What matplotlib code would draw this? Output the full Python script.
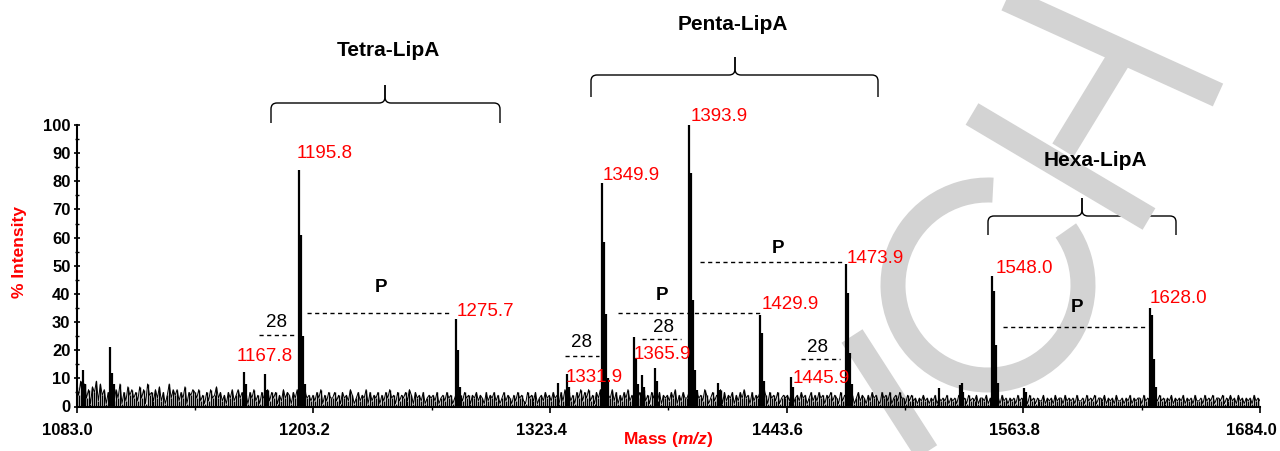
import numpy as np
import matplotlib
matplotlib.use("Agg")
import matplotlib.pyplot as plt
import matplotlib.transforms as mtransforms
from matplotlib.path import Path
from matplotlib.patches import PathPatch, Wedge

plt.rcParams['font.family'] = 'Liberation Sans'
plt.rcParams['mathtext.fontset'] = 'custom'
plt.rcParams['mathtext.bfit'] = 'Liberation Sans:italic:bold'

# baseline noise, one digit per Da from 1083 to 1684 (rows of 60 Da)
noise_rows = [
    "7492836175 9284615372 6381527463 5273618452 6372514836 4625371546",
    "5362415263 4735241536 2463524153 6241534625 3514263541 5362415342",
    "4253614253 3524153426 4135243615 2435142536 3415243526 4153425134",
    "3425134253 4135242534 1435243152 4352413524 3142534215 3425134253",
    "4253415263 5241536253 6241536251 4362514253 6241535262 4153625143",
    "4253614253 3524153426 4135243615 2435142536 3415243526 4153425134",
    "3425134253 4135242534 1435243152 4352413524 3142534215 3425134253",
    "3142423132 4231324132 3241323142 2314232413 3241324231 4231323142",
    "3231423132 2413231423 3142323142 2314232413 3241323142 2313241323",
    "3142323132 4231324132 3241323142 2314232413 3241324231 4231323142 32",
]

# peak sticks (m/z, % intensity)
peak_mz = [1086.0, 1087.0, 1099.8, 1100.8, 1101.8,
           1167.8, 1168.8, 1178.8, 1179.8,
           1195.8, 1196.8, 1197.8, 1198.8,
           1275.7, 1276.7, 1277.7,
           1327.3, 1331.9, 1332.9,
           1349.9, 1350.9, 1351.9, 1352.9,
           1365.9, 1366.9, 1367.9, 1370.0, 1371.0, 1376.6, 1377.6,
           1393.9, 1394.9, 1395.9, 1396.9, 1397.9,
           1408.7, 1409.7,
           1429.9, 1430.9, 1431.9,
           1445.9, 1446.9,
           1473.9, 1474.9, 1475.9, 1476.9,
           1521.2, 1531.4, 1532.4, 1533.4,
           1548.0, 1549.0, 1550.0, 1551.0,
           1563.9, 1564.9,
           1628.0, 1629.0, 1630.0, 1631.0]
peak_int = [13, 8, 21, 12, 8,
            12.4, 8, 11.7, 6,
            84, 61, 25, 8,
            31, 20, 7,
            8.5, 11.7, 7,
            79.4, 58.5, 33, 10,
            24.8, 17.4, 8, 11.3, 7, 13.8, 9,
            100, 83, 38, 13, 6,
            8.5, 6,
            32.6, 26, 9,
            10.6, 7,
            50.7, 40.4, 19, 8,
            6.7, 7.8, 8.2, 5,
            46.2, 41, 22, 8.5,
            6.7, 5,
            35, 32.6, 16.7, 7]

labelled_mz = [1167.8, 1195.8, 1275.7, 1331.9, 1349.9, 1365.9,
               1393.9, 1429.9, 1445.9, 1473.9, 1548.0, 1628.0]
xticks = [1083.0, 1203.2, 1323.4, 1443.6, 1563.8, 1684.0]
yticks = [0, 10, 20, 30, 40, 50, 60, 70, 80, 90, 100]

# layout of the annotations (data coords)
label_xy = [(1164.4, 17.6), (1194.9, 89.9), (1276.2, 33.9), (1331.5, 10.3),
            (1350.3, 82.2), (1366.0, 18.5), (1395.0, 103.0), (1431.0, 36.4),
            (1446.8, 10.1), (1474.2, 52.6), (1549.9, 49.2), (1628.1, 38.5)]
# text, text x, text y, line x0, line x1, line y
gap_marks = [("28", 1184.7, 30.0, 1175.6, 1194.9, 25.4),
             ("28", 1339.6, 22.6, 1331.0, 1348.3, 17.9),
             ("28", 1380.8, 27.9, 1370.2, 1390.0, 24.0),
             ("28", 1459.5, 21.1, 1450.8, 1470.6, 16.9),
             ("P", 1237.5, 42.1, 1200.0, 1272.1, 33.1),
             ("P", 1380.3, 39.6, 1357.9, 1430.0, 33.2),
             ("P", 1439.1, 56.3, 1399.6, 1472.2, 51.2),
             ("P", 1591.0, 35.3, 1553.5, 1625.6, 28.2)]
# groups in pixel coords: name, title x, title y, x0, x1, xmid, y_end, y_bar, y_tip
groups = [("Tetra-LipA", 388, 50, 271, 500, 385, 123, 103, 85),
          ("Penta-LipA", 733, 25, 591, 878, 735, 97, 75, 57),
          ("Hexa-LipA", 1095, 160, 988, 1176, 1082, 235, 216, 198)]

noise = np.array([int(c) for c in "".join(noise_rows).replace(" ", "")], float)
noise_mz = np.linspace(1083, 1684, len(noise))

fig = plt.figure(figsize=(12.8, 4.51), dpi=100)

# background layer in pixel units: watermark + braces + group titles
bg = fig.add_axes([0, 0, 1, 1], zorder=0)
bg.set_xlim(0, 1280)
bg.set_ylim(451, 0)
bg.axis('off')
wm = '#d3d3d3'
bg.plot([1000, 1218], [-4, 95], color=wm, lw=18, solid_capstyle='butt')
bg.plot([1124, 1063], [50, 150], color=wm, lw=18, solid_capstyle='butt')
bg.plot([972, 1149], [114, 219], color=wm, lw=18, solid_capstyle='butt')
bg.plot([852, 935], [336, 465], color=wm, lw=18, solid_capstyle='butt')
bg.add_patch(Wedge((988, 285), 107.5, -395, -87, width=25, color=wm, lw=0))

def brace(ax, x0, x1, xm, y_end, y_bar, y_tip, r=6):
    for xa, s in ((x0, 1), (x1, -1)):
        verts = [(xa, y_end), (xa, y_bar + r), (xa, y_bar), (xa + s * r, y_bar),
                 (xm - s * r, y_bar), (xm, y_bar), (xm, y_bar - r), (xm, y_tip)]
        codes = [Path.MOVETO, Path.LINETO, Path.CURVE3, Path.CURVE3,
                 Path.LINETO, Path.CURVE3, Path.CURVE3, Path.LINETO]
        ax.add_patch(PathPatch(Path(verts, codes), fill=False, lw=1.0, ec='black'))

for name, tx, ty, x0, x1, xm, ye, yb, yt in groups:
    brace(bg, x0, x1, xm, ye, yb, yt)
    bg.text(tx, ty, name, ha='center', va='center', fontsize=15, fontweight='bold')

ax = fig.add_axes([76.7 / 1280, 44.5 / 451, 1183.3 / 1280, 281.5 / 451], zorder=1)
ax.set_facecolor('none')
ax.vlines(noise_mz, 0.3, noise, color='black', lw=1.0)
ax.plot(noise_mz, noise, color='black', lw=0.7)
ax.vlines(peak_mz, 0, peak_int, color='black', lw=1.6)

for m, (lx, ly) in zip(labelled_mz, label_xy):
    ax.text(lx, ly, f"{m:.1f}", color='#ff0000', fontsize=13.5, ha='left', va='center')

for txt, tx, ty, lx0, lx1, ly in gap_marks:
    ax.text(tx, ty, txt, ha='center', va='center', fontsize=13.5,
            fontweight='bold' if txt == 'P' else 'normal')
    ax.plot([lx0, lx1], [ly, ly], color='black', lw=1.0, linestyle=(0, (3, 2.5)))

ax.set_xlim(1083, 1684)
ax.set_ylim(0, 100)
for s in ('top', 'right'):
    ax.spines[s].set_visible(False)
for s in ('left', 'bottom'):
    ax.spines[s].set_linewidth(1.5)

ax.set_xticks(xticks)
ax.set_xticklabels([f"{t:.1f}" for t in xticks])
ax.set_xticks([(a + b) / 2 for a, b in zip(xticks[:-1], xticks[1:])], minor=True)
ax.set_yticks(yticks)
ax.set_yticks([v + 5 for v in yticks[:-1]], minor=True)
ax.tick_params(axis='x', which='major', direction='out', length=4, width=1.2, pad=8, labelsize=12)
ax.tick_params(axis='x', which='minor', direction='out', length=2.5, width=1)
ax.tick_params(axis='y', which='major', direction='inout', length=5, width=1.2, pad=2, labelsize=12)
ax.tick_params(axis='y', which='minor', direction='inout', length=3, width=1)
shift = mtransforms.ScaledTranslation(-9 / 100, 0, fig.dpi_scale_trans)
for lab in ax.get_xticklabels():
    lab.set_fontweight('bold')
    lab.set_transform(lab.get_transform() + shift)
for lab in ax.get_yticklabels():
    lab.set_fontweight('bold')

ax.set_xlabel(r"Mass ($\mathbfit{m/z}$)", color='#ff0000', fontsize=12.5,
              fontweight='bold', va='center')
ax.xaxis.set_label_coords(0.5, -0.119)
ax.set_ylabel("% Intensity", color='#ff0000', fontsize=12.5, fontweight='bold',
              va='center', ha='center')
ax.yaxis.set_label_coords(-0.048, 0.549)

fig.savefig("out.png", dpi=100)
plt.close(fig)
